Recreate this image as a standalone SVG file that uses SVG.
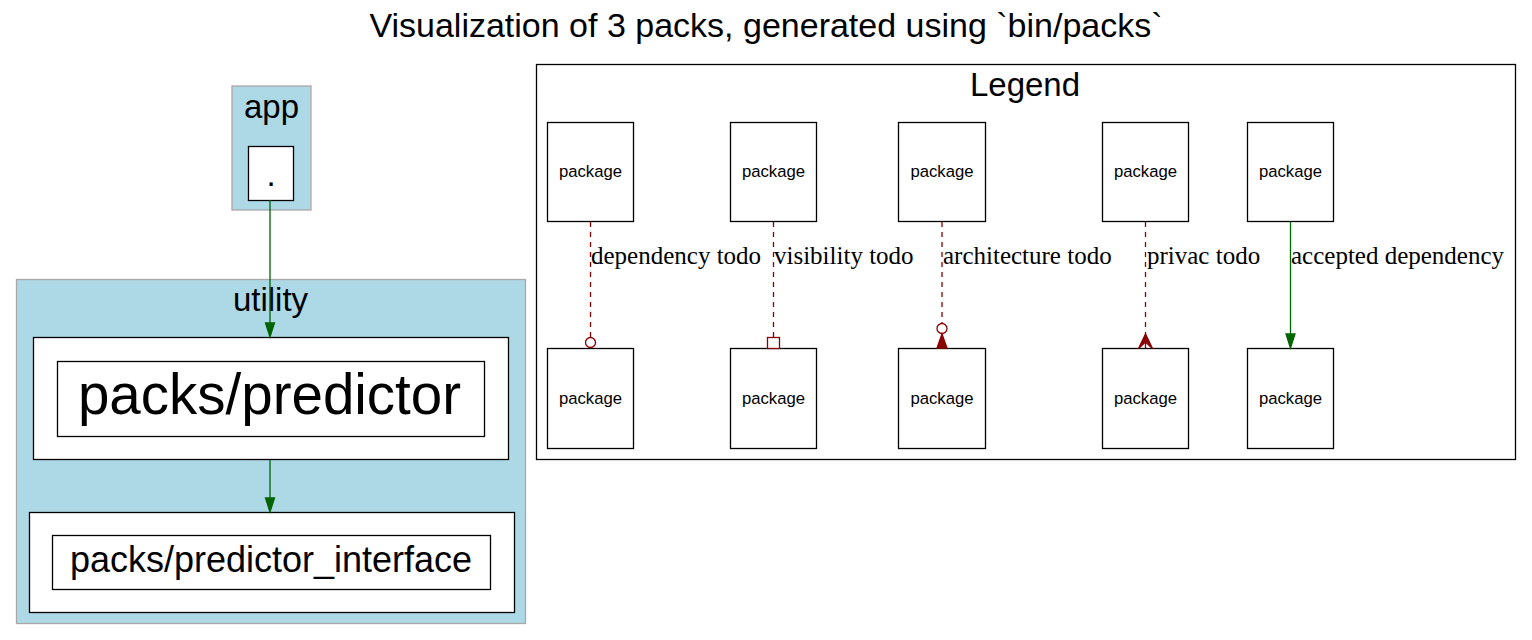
<svg xmlns="http://www.w3.org/2000/svg" width="1532" height="640" viewBox="0 0 1532 640">
<style>
.bg{fill:#ffffff}
.cl{fill:#add8e6;stroke:#a9a9a9;stroke-width:1.3}
.lg{fill:#ffffff;stroke:#000000;stroke-width:1.3}
.nd{fill:#ffffff;stroke:#000000;stroke-width:1.3}
.t{font-family:"Liberation Sans",Arial,sans-serif;text-anchor:middle;fill:#000}
.ttl{font-size:34px}
.cll{font-size:33px}
.pk{font-size:16.7px}
.el{font-family:"Liberation Serif","Times New Roman",serif;font-size:25px;fill:#000}
.ok{stroke:#006400;stroke-width:1.3;fill:none}
.okh{fill:#006400;stroke:#006400;stroke-width:1.3}
.todo{stroke:#8b0000;stroke-width:1.3;fill:none;stroke-dasharray:5,5}
.th{stroke:#8b0000;stroke-width:1.3;fill:#ffffff}
.thf{stroke:#8b0000;stroke-width:1.3;fill:#8b0000}
</style>
<rect class="bg" x="0" y="0" width="1532" height="640"/>
<text class="t ttl" x="766" y="37">Visualization of 3 packs, generated using `bin/packs`</text>

<g id="cluster_app">
<rect class="cl" x="232" y="86" width="79" height="124"/>
<text class="t cll" x="271.5" y="118">app</text>
</g>
<g id="cluster_utility">
<rect class="cl" x="16.5" y="279.5" width="509" height="344"/>
<text class="t cll" x="270.5" y="311">utility</text>
</g>
<g id="cluster_legend">
<rect class="lg" x="536.5" y="64.5" width="979" height="395"/>
<text class="t cll" x="1025" y="96">Legend</text>
</g>

<g id="node_root">
<rect class="nd" x="248.5" y="146.5" width="45" height="54"/>
<text class="t" x="271" y="186" font-size="33">.</text>
</g>
<g id="node_predictor">
<rect class="nd" x="33.5" y="337.5" width="475" height="122"/>
<rect class="nd" x="57.5" y="361.5" width="427" height="75"/>
<text class="t" x="269.5" y="414" font-size="56.5">packs/predictor</text>
</g>
<g id="node_predictor_interface">
<rect class="nd" x="29.5" y="512.5" width="485" height="100"/>
<rect class="nd" x="52.5" y="535.5" width="438" height="54"/>
<text class="t" x="271" y="572" font-size="36">packs/predictor_interface</text>
</g>

<g id="legend_nodes">
<g id="lg_dep_a"><rect class="nd" x="547.5" y="122.5" width="86" height="99"/><text class="t pk" x="590.5" y="177">package</text></g>
<g id="lg_dep_b"><rect class="nd" x="547.5" y="348.5" width="86" height="100"/><text class="t pk" x="590.5" y="404">package</text></g>
<g id="lg_vis_a"><rect class="nd" x="730.5" y="122.5" width="86" height="99"/><text class="t pk" x="773.5" y="177">package</text></g>
<g id="lg_vis_b"><rect class="nd" x="730.5" y="348.5" width="86" height="100"/><text class="t pk" x="773.5" y="404">package</text></g>
<g id="lg_arch_a"><rect class="nd" x="898.5" y="122.5" width="87" height="99"/><text class="t pk" x="942" y="177">package</text></g>
<g id="lg_arch_b"><rect class="nd" x="898.5" y="348.5" width="87" height="100"/><text class="t pk" x="942" y="404">package</text></g>
<g id="lg_priv_a"><rect class="nd" x="1102.5" y="122.5" width="86" height="99"/><text class="t pk" x="1145.5" y="177">package</text></g>
<g id="lg_priv_b"><rect class="nd" x="1102.5" y="348.5" width="86" height="100"/><text class="t pk" x="1145.5" y="404">package</text></g>
<g id="lg_acc_a"><rect class="nd" x="1247.5" y="122.5" width="86" height="99"/><text class="t pk" x="1290.5" y="177">package</text></g>
<g id="lg_acc_b"><rect class="nd" x="1247.5" y="348.5" width="86" height="100"/><text class="t pk" x="1290.5" y="404">package</text></g>
</g>

<g id="connectors">
<line class="ok" x1="270" y1="200" x2="270" y2="323"/>
<polygon class="okh" points="270,337 265.5,323 274.5,323"/>
<line class="ok" x1="270" y1="460" x2="270" y2="498"/>
<polygon class="okh" points="270,512 265.5,498 274.5,498"/>

<line class="todo" x1="590.5" y1="222" x2="590.5" y2="337"/>
<circle class="th" cx="590.5" cy="342.5" r="5"/>
<text class="el" x="591" y="264">dependency todo</text>

<line class="todo" x1="773.5" y1="222" x2="773.5" y2="337"/>
<rect class="th" x="767.5" y="337.5" width="12" height="11"/>
<text class="el" x="774" y="264">visibility todo</text>

<line class="todo" x1="942" y1="222" x2="942" y2="323"/>
<circle class="th" cx="942" cy="328.5" r="5"/>
<polygon class="thf" points="942,334 937,348 947,348"/>
<text class="el" x="943" y="264">architecture todo</text>

<line class="todo" x1="1145.5" y1="222" x2="1145.5" y2="334"/>
<path class="thf" d="M1145.5,334 L1138.5,348.5 L1145.5,342 L1152.5,348.5 Z"/>
<line stroke="#8b0000" stroke-width="1.3" x1="1145.5" y1="334" x2="1145.5" y2="348"/>
<text class="el" x="1147" y="264">privac todo</text>

<line class="ok" x1="1290.5" y1="222" x2="1290.5" y2="334"/>
<polygon class="okh" points="1290.5,348 1286,334 1295,334"/>
<text class="el" x="1291" y="264">accepted dependency</text>
</g>
</svg>
